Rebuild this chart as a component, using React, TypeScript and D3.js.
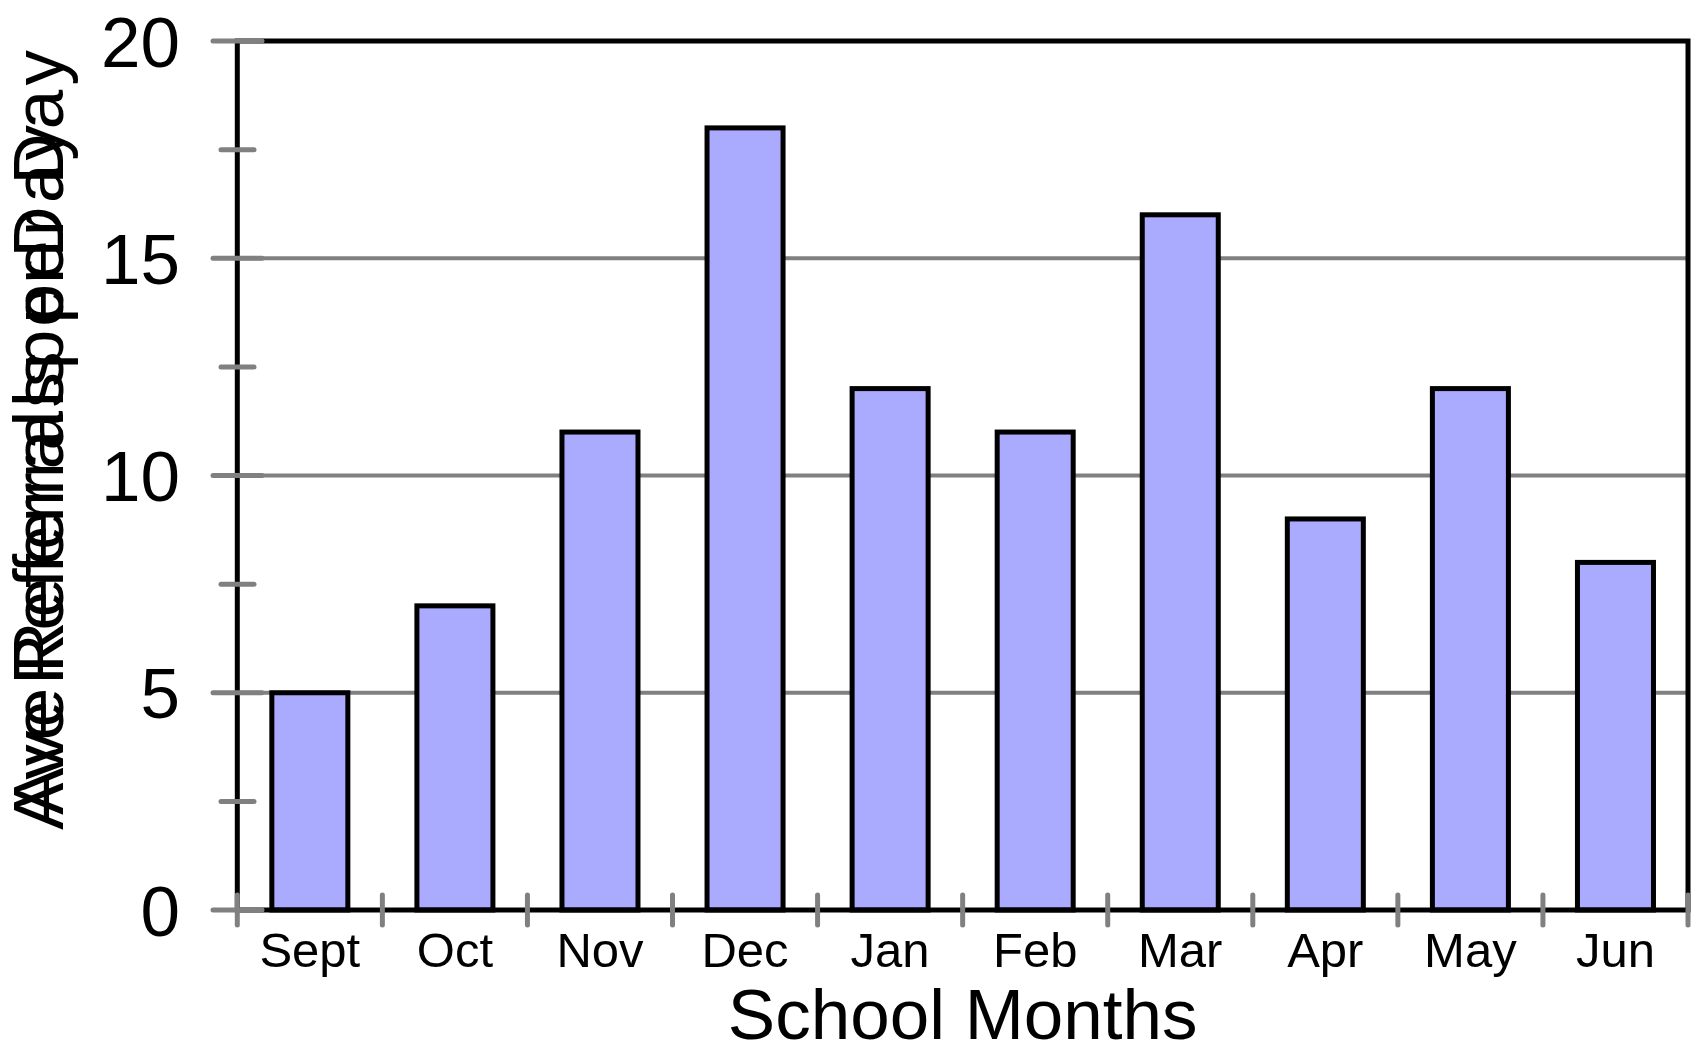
import React from "react";
import * as d3 from "d3";

const months = ["Sept", "Oct", "Nov", "Dec", "Jan", "Feb", "Mar", "Apr", "May", "Jun"];
const referrals = [5, 7, 11, 18, 12, 11, 16, 9, 12, 8];
const yTicks = [0, 5, 10, 15, 20];
const yMinorTicks = [2.5, 7.5, 12.5, 17.5];
const gridValues = [5, 10, 15];

const W = 1699;
const H = 1055;
const left = 237.3;
const right = 1688;
const top = 41;
const bottom = 910;
const font = "'Liberation Sans', Arial, sans-serif";

function App() {
  const x = d3
    .scaleBand()
    .domain(months)
    .range([left, right])
    .paddingInner(0.476)
    .paddingOuter(0.238);
  const y = d3.scaleLinear().domain([0, 20]).range([bottom, top]);
  const step = (right - left) / months.length;
  const boundaries = d3.range(months.length + 1).map((i) => left + i * step);

  return (
    <svg
      width={W}
      height={H}
      style={{ position: "absolute", left: 0, top: 0, background: "#fff" }}
    >
      {/* gridlines */}
      {gridValues.map((v) => (
        <line key={"g" + v} x1={left} x2={right} y1={y(v)} y2={y(v)} stroke="#808080" strokeWidth={4} />
      ))}

      {/* bars */}
      {months.map((m, i) => (
        <rect
          key={m}
          x={x(m)}
          y={y(referrals[i])}
          width={x.bandwidth()}
          height={y(0) - y(referrals[i])}
          fill="#AAAAFF"
          stroke="#000"
          strokeWidth={5}
        />
      ))}

      {/* frame */}
      <rect x={left} y={top} width={right - left} height={bottom - top} fill="none" stroke="#000" strokeWidth={5} />

      {/* y ticks */}
      {yTicks.map((v) => (
        <line key={"yt" + v} x1={213} x2={262} y1={y(v)} y2={y(v)} stroke="#808080" strokeWidth={5} strokeLinecap="round" />
      ))}
      {yMinorTicks.map((v) => (
        <line key={"ym" + v} x1={221} x2={254} y1={y(v)} y2={y(v)} stroke="#808080" strokeWidth={5} strokeLinecap="round" />
      ))}
      {yTicks.map((v) => (
        <text
          key={"yl" + v}
          x={180}
          y={y(v)}
          dy="0.36em"
          textAnchor="end"
          fontFamily={font}
          fontSize={71}
        >
          {v}
        </text>
      ))}

      {/* x ticks */}
      {boundaries.map((bx, i) => (
        <line key={"xt" + i} x1={bx} x2={bx} y1={895} y2={925} stroke="#808080" strokeWidth={5} strokeLinecap="round" />
      ))}
      {months.map((m) => (
        <text
          key={"xl" + m}
          x={(x(m) ?? 0) + x.bandwidth() / 2}
          y={967}
          textAnchor="middle"
          fontFamily={font}
          fontSize={49}
        >
          {m}
        </text>
      ))}

      {/* axis titles */}
      <text x={(left + right) / 2} y={1039} textAnchor="middle" fontFamily={font} fontSize={71}>
        School Months
      </text>
      <text
        transform="translate(63,830) rotate(-90)"
        fontFamily={font}
        fontSize={71}
        textLength={780}
        lengthAdjust="spacing"
      >
        Ave Referrals per Day
      </text>
      <text
        transform="translate(63,815) rotate(-90)"
        fontFamily={font}
        fontSize={71}
        textLength={690}
        lengthAdjust="spacing"
      >
        AveReferralsperDay
      </text>
    </svg>
  );
}

export default App;
